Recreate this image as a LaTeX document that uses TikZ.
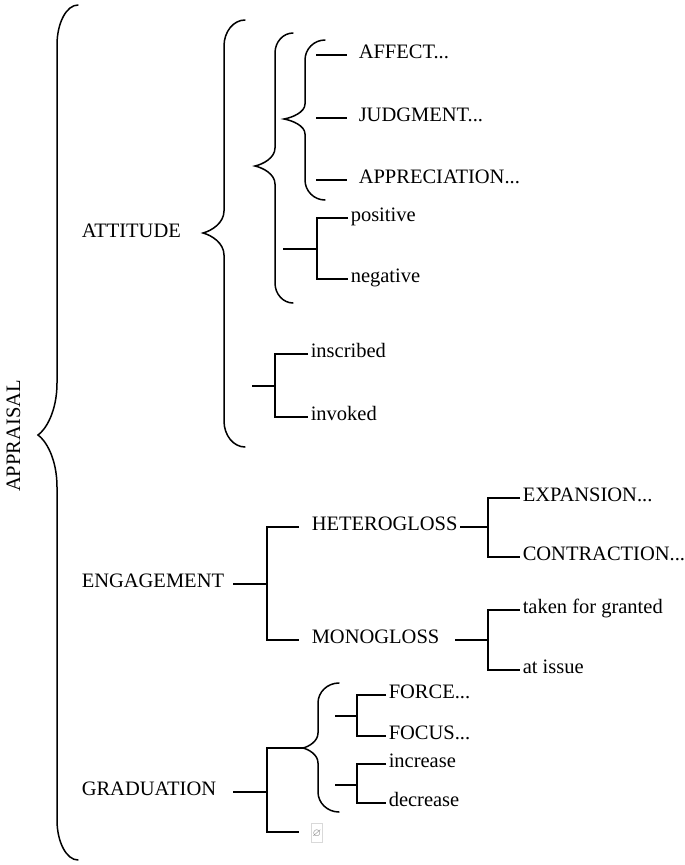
\documentclass[tikz,border=0pt]{standalone}
\usepackage{amssymb}
\usepackage{fontspec}
\setmainfont{Liberation Serif}
% xend, xspine, xtip, ytop, ytip, ybot, end radius, tip radius
\newcommand{\curly}[8]{%
  \draw[bracket] (#1,#4) .. controls ({#2+0.45*(#1-#2)},#4) and (#2,{#4+0.45*#7}) .. (#2,#4+#7)
    -- (#2,#5-#8) .. controls (#2,{#5-0.45*#8}) and ({#3+0.4*(#2-#3)},{#5-0.1*#8}) .. (#3,#5)
    .. controls ({#3+0.4*(#2-#3)},{#5+0.1*#8}) and (#2,{#5+0.45*#8}) .. (#2,#5+#8)
    -- (#2,#6-#7) .. controls (#2,{#6-0.45*#7}) and ({#2+0.45*(#1-#2)},#6) .. (#1,#6);}
\begin{document}
\begin{tikzpicture}[x=1pt,y=-1pt,line width=1.5pt,
	every node/.style={font=\fontsize{20.5}{24}\selectfont,inner sep=2pt,text height=0.62em,text depth=0pt},
	lbl/.style={anchor=west},
	bracket/.style={line width=1.5pt,line cap=round},
	nullbox/.style={draw=black!15,line width=0.6pt,text=black!55,inner sep=0pt,
		minimum width=11pt,minimum height=19pt,font=\fontsize{11}{11}\selectfont}]
	\useasboundingbox (0,0) rectangle (685,865);
	\node[rotate=90] (appraisal) at (17,436) {APPRAISAL};
	\node[lbl] (attitude) at (79,234) {ATTITUDE};
	\node[lbl] (engagement) at (79,584) {ENGAGEMENT};
	\node[lbl] (graduation) at (79,792) {GRADUATION};
	\node[lbl] (affect) at (356,55) {AFFECT...};
	\node[lbl] (judgment) at (356,118) {JUDGMENT...};
	\node[lbl] (appreciation) at (356,180) {APPRECIATION...};
	\node[lbl] (positive) at (348,218) {positive};
	\node[lbl] (negative) at (348,279) {negative};
	\node[lbl] (inscribed) at (308,354) {inscribed};
	\node[lbl] (invoked) at (308,417) {invoked};
	\node[lbl] (hetero) at (309,527) {HETEROGLOSS};
	\node[lbl] (mono) at (309,640) {MONOGLOSS};
	\node[lbl] (expansion) at (520,498) {EXPANSION...};
	\node[lbl] (contraction) at (520,557) {CONTRACTION...};
	\node[lbl] (granted) at (520,610) {taken for granted};
	\node[lbl] (atissue) at (520,670) {at issue};
	\node[lbl] (force) at (386,695) {FORCE...};
	\node[lbl] (focus) at (386,736) {FOCUS...};
	\node[lbl] (increase) at (386,764) {increase};
	\node[lbl] (decrease) at (386,803) {decrease};
	\node[nullbox] (null) at (317,833) {$\varnothing$};

	\curly{78}{57}{38}{5}{435}{860}{40}{52}
	\curly{245}{224}{203}{20}{233}{447}{26}{22}
	\curly{293}{275}{255}{33}{166}{303}{20}{18}
	\curly{325}{305}{284}{40}{119}{200}{20}{15}
	\curly{339}{318}{303}{683}{748}{812}{20}{15}

	\draw ([xshift=-40pt]affect.west) -- ([xshift=-9pt]affect.west);
	\draw ([xshift=-40pt]judgment.west) -- ([xshift=-9pt]judgment.west);
	\draw ([xshift=-40pt]appreciation.west) -- ([xshift=-9pt]appreciation.west);

	\coordinate (pn) at (283,249);
	\draw (pn) -- (317,249) coordinate (pnj);
	\draw (positive.west) -| (pnj) |- (negative.west);
	\coordinate (ii) at (252,386);
	\draw (ii) -- (275,386) coordinate (iij);
	\draw (inscribed.west) -| (iij) |- (invoked.west);

	\coordinate (eng) at (233,584);
	\draw (eng) -- (267,584) coordinate (engj);
	\coordinate (hgend) at (299,527);
	\coordinate (mgend) at (299,640);
	\draw (hgend) -| (engj) |- (mgend);
	\draw (hetero.east) -- (488,527) coordinate (hgj);
	\draw (expansion.west) -| (hgj) |- (contraction.west);
	\coordinate (mg) at (455,640);
	\draw (mg) -- (488,640) coordinate (mgj);
	\draw (granted.west) -| (mgj) |- (atissue.west);

	\coordinate (grd) at (233,792);
	\draw (grd) -- (267,792) coordinate (grdj);
	\coordinate (grtip) at (303,748);
	\coordinate (nullend) at (299,832);
	\draw (grtip) -| (grdj) |- (nullend);
	\coordinate (ff) at (335,716);
	\draw (ff) -- (357,716) coordinate (ffj);
	\draw (force.west) -| (ffj) |- (focus.west);
	\coordinate (id) at (335,785);
	\draw (id) -- (357,785) coordinate (idj);
	\draw (increase.west) -| (idj) |- (decrease.west);
\end{tikzpicture}
\end{document}
